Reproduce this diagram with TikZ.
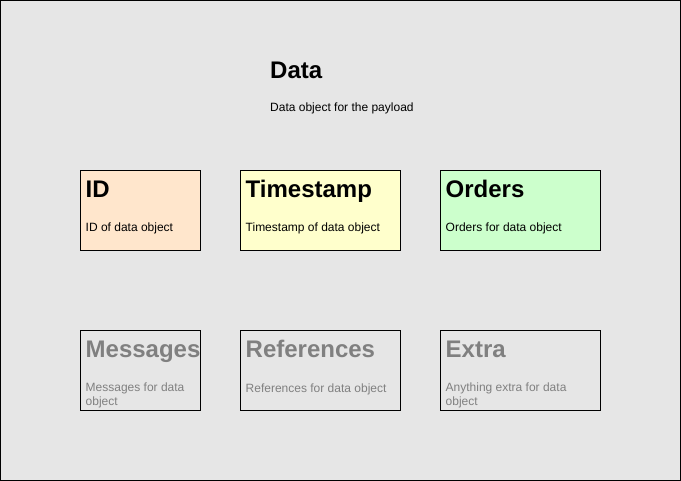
\documentclass[tikz,border=0pt]{standalone}
\usepackage{fontspec}
\setmainfont{Liberation Sans}
\usetikzlibrary{positioning}
\definecolor{bgfill}{HTML}{E6E6E6}
\definecolor{idfill}{HTML}{FFE6CC}
\definecolor{tsfill}{HTML}{FFFFCC}
\definecolor{ordfill}{HTML}{CCFFCC}
\definecolor{dimtext}{HTML}{808080}
\tikzset{
  card/.style={draw=black, line width=1pt, minimum height=80pt, inner sep=0pt},
  head/.style={anchor=base west, inner sep=0pt, font=\bfseries\fontsize{24}{28}\selectfont},
  body/.style={anchor=base west, inner sep=0pt, align=left, font=\fontsize{12}{14}\selectfont},
}
\begin{document}
\begin{tikzpicture}[x=1pt, y=-1pt]
  \useasboundingbox (0,0) rectangle (681,481);
  \draw[fill=bgfill, line width=1pt] (0.5,0.5) rectangle (680.5,480.5);
  \node[head] (title) at (270,78.5) {Data};
  \node[body] (subtitle) at (270,111.5) {Data object for the payload};
  \node[card, fill=idfill, minimum width=120pt] (id) at (140.5,210.5) {};
  \node[card, fill=tsfill, minimum width=160pt] (ts) at (320.5,210.5) {};
  \node[card, fill=ordfill, minimum width=160pt] (ord) at (520.5,210.5) {};
  \node[card, minimum width=120pt] (msg) at (140.5,370.5) {};
  \node[card, minimum width=160pt] (ref) at (320.5,370.5) {};
  \node[card, minimum width=160pt] (extra) at (520.5,370.5) {};
  % headings and texts inside the cards
  \node[head] (idhead) at ([xshift=5.5pt,yshift=-28pt]id.north west) {ID};
  \node[body] (idtext) at ([xshift=5.5pt,yshift=-62pt]id.north west) {ID of data object};
  \node[head] (tshead) at ([xshift=5.5pt,yshift=-28pt]ts.north west) {Timestamp};
  \node[body] (tstext) at ([xshift=5.5pt,yshift=-62pt]ts.north west) {Timestamp of data object};
  \node[head] (ordhead) at ([xshift=5.5pt,yshift=-28pt]ord.north west) {Orders};
  \node[body] (ordtext) at ([xshift=5.5pt,yshift=-62pt]ord.north west) {Orders for data object};
  \begin{scope}[dimtext]
    \node[head] (msghead) at ([xshift=5.5pt,yshift=-28pt]msg.north west) {Messages};
    \node[body] (msgtext) at ([xshift=5.5pt,yshift=-76pt]msg.north west) {Messages for data\\object};
    \node[head] (refhead) at ([xshift=5.5pt,yshift=-28pt]ref.north west) {References};
    \node[body] (reftext) at ([xshift=5.5pt,yshift=-62pt]ref.north west) {References for data object};
    \node[head] (extrahead) at ([xshift=5.5pt,yshift=-28pt]extra.north west) {Extra};
    \node[body] (extratext) at ([xshift=5.5pt,yshift=-76pt]extra.north west) {Anything extra for data\\object};
  \end{scope}
\end{tikzpicture}
\end{document}
